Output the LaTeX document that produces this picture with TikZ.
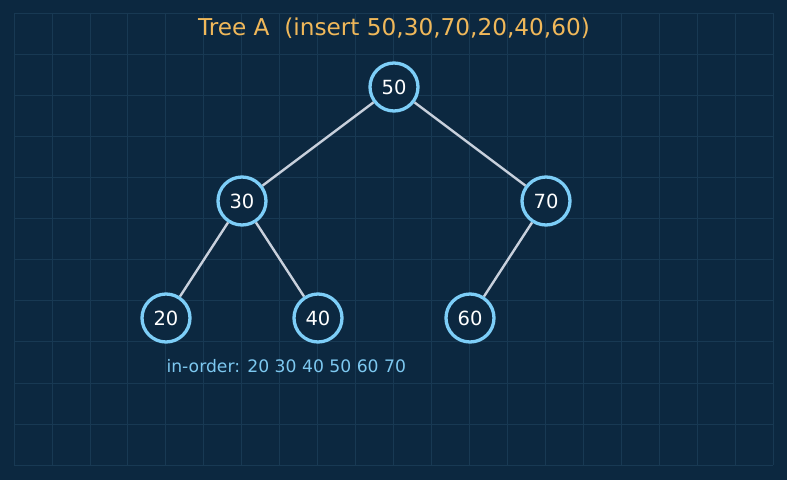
\documentclass[tikz,border=0pt]{standalone}
\usepackage{fontspec}
\setmainfont{DejaVu Sans}
\definecolor{bg}{RGB}{12,40,64}
\definecolor{gridc}{RGB}{24,57,83}
\definecolor{nodeb}{RGB}{125,206,248}
\definecolor{edgec}{RGB}{200,208,220}
\definecolor{titlec}{RGB}{240,184,90}
\definecolor{inorder}{RGB}{125,200,240}
\begin{document}
\begin{tikzpicture}[x=1pt,y=-1pt,
  bst/.style={circle,draw=nodeb,line width=3.3pt,fill=bg,minimum size=48pt,inner sep=0pt,text=white,font=\fontsize{19.5}{23}\selectfont},
  link/.style={draw=edgec,line width=2.4pt}]
\fill[bg] (0,0) rectangle (787,480);
\useasboundingbox (0,0) rectangle (787,480);
\foreach \i in {0,...,20} \draw[gridc,line width=0.8pt] ({14+\i*37.95},13) -- ({14+\i*37.95},465);
\foreach \j in {0,...,11} \draw[gridc,line width=0.8pt] (14,{13+\j*41.1}) -- (773,{13+\j*41.1});
\node[text=titlec,font=\fontsize{23.2}{28}\selectfont] (title) at (394,28) {Tree A\ \ (insert 50,30,70,20,40,60)};
\node[bst] (n50) at (394,87) {50};
\node[bst] (n30) at (242,201) {30};
\node[bst] (n70) at (546,201) {70};
\node[bst] (n20) at (166,318) {20};
\node[bst] (n40) at (318,318) {40};
\node[bst] (n60) at (470,318) {60};
\path[link] (n50) -- (n30);
\path[link] (n50) -- (n70);
\path[link] (n30) -- (n20);
\path[link] (n30) -- (n40);
\path[link] (n70) -- (n60);
\node[text=inorder,font=\fontsize{17.2}{20}\selectfont,anchor=west] (ino) at (163,366) {in-order: 20 30 40 50 60 70};
\end{tikzpicture}
\end{document}
